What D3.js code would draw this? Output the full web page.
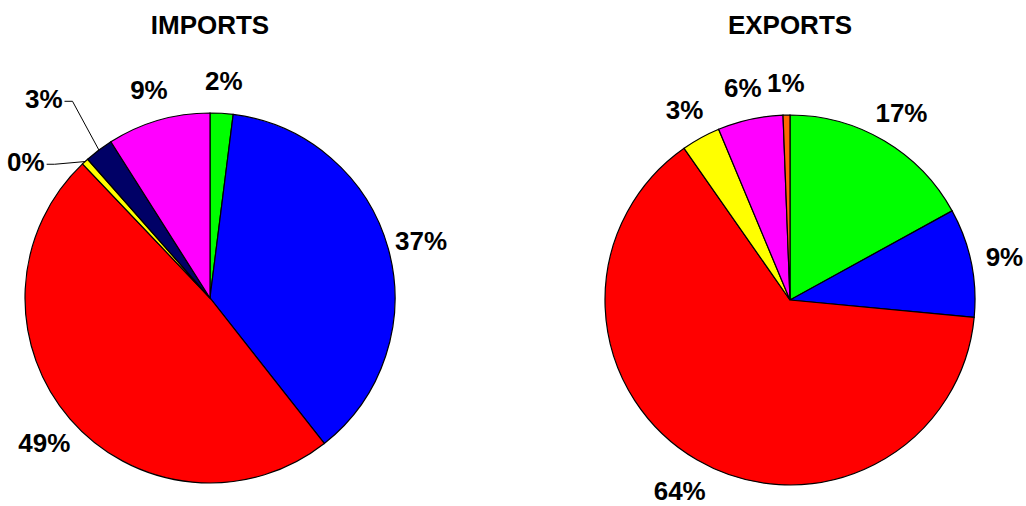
<!DOCTYPE html>
<html>
<head>
<meta charset="utf-8">
<title>Imports and exports</title>
<script src="https://d3js.org/d3.v7.min.js"></script>
<style>
  body { margin: 0; background: #fff; }
  text { font-family: "Liberation Sans", Arial, sans-serif; font-weight: bold; }
</style>
</head>
<body>
<script>
var w = 1026, h = 506;

// slice order runs clockwise from 12 o'clock
var categories = ["green", "blue", "red", "yellow", "navy", "magenta", "orange"];
var colors = ["#00ff00", "#0000ff", "#ff0000", "#ffff00", "#000066", "#ff00ff", "#ff6600"];

var importValues = [2.0, 37.4, 48.5, 0.6, 2.5, 9.0, 0];
var importLabels = ["2%", "37%", "49%", "0%", "3%", "9%", ""];

var exportValues = [17.0, 9.5, 63.8, 3.4, 0, 5.7, 0.6];
var exportLabels = ["17%", "9%", "64%", "3%", "", "6%", "1%"];

var svg = d3.select("body").append("svg")
    .attr("width", w)
    .attr("height", h);

var pie = d3.pie().sort(null).value(function(d) { return d.v; });
var r = 185;

function drawPie(title, cx, cy, values, labels, leaders) {
    var data = categories.map(function(c, i) {
        return { c: c, v: values[i], label: labels[i], color: colors[i] };
    });
    var g = svg.append("g").attr("transform", "translate(" + cx + "," + cy + ")");
    var arc = d3.arc().innerRadius(0).outerRadius(r);
    var arcs = pie(data).filter(function(d) { return d.data.v > 0; });

    g.selectAll("path")
        .data(arcs)
        .enter()
        .append("path")
        .attr("d", arc)
        .attr("fill", function(d) { return d.data.color; })
        .attr("stroke", "#000")
        .attr("stroke-width", 1.2);

    svg.append("text")
        .attr("x", cx).attr("y", 34)
        .attr("text-anchor", "middle")
        .attr("font-size", 26)
        .text(title);

    arcs.forEach(function(d) {
        if (!d.data.label) return;
        var a = (d.startAngle + d.endAngle) / 2;
        var lead = leaders[d.data.c];
        if (lead) {
            // small slices: elbow leader out to the label
            var ex = Math.sin(a) * r, ey = -Math.cos(a) * r;
            var ax = Math.sin(lead.a) * lead.r, ay = -Math.cos(lead.a) * lead.r;
            g.append("polyline")
                .attr("points", [[ex, ey], [ax, ay], [ax - 8, ay]].map(String).join(" "))
                .attr("fill", "none").attr("stroke", "#000").attr("stroke-width", 1);
            g.append("text")
                .attr("x", ax - 10).attr("y", ay)
                .attr("text-anchor", "end")
                .attr("dominant-baseline", "middle")
                .attr("font-size", 26)
                .text(d.data.label);
            return;
        }
        var lr = r + 34;
        g.append("text")
            .attr("x", Math.sin(a) * lr)
            .attr("y", -Math.cos(a) * lr + 4)
            .attr("text-anchor", "middle")
            .attr("dominant-baseline", "middle")
            .attr("font-size", 26)
            .text(d.data.label);
    });
}

drawPie("IMPORTS", 210, 298, importValues, importLabels, {
    yellow: { a: -0.86, r: 205 },
    navy: { a: -0.61, r: 240 }
});
drawPie("EXPORTS", 790, 300, exportValues, exportLabels, {});
</script>
</body>
</html>
